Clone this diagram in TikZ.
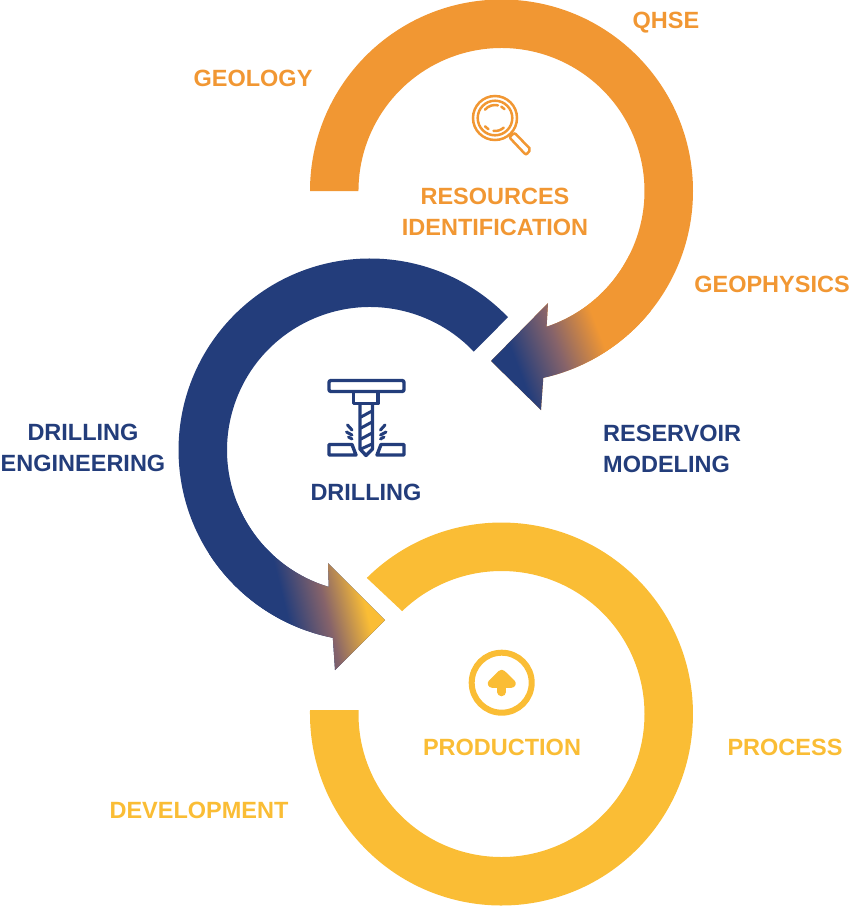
\documentclass[tikz,border=0pt]{standalone}
\usepackage{fontspec}
\setmainfont{Liberation Sans}
\definecolor{oilorange}{HTML}{F19733}
\definecolor{oilblue}{HTML}{233D7B}
\definecolor{oilyellow}{HTML}{FABD35}
\definecolor{oilmauve}{HTML}{86636A}
\pgfdeclarehorizontalshading{blueorange}{240bp}{color(0bp)=(oilblue); color(56bp)=(oilblue); color(100bp)=(oilmauve); color(144bp)=(oilorange); color(200bp)=(oilorange)}
\pgfdeclarehorizontalshading{blueyellow}{240bp}{color(0bp)=(oilblue); color(61bp)=(oilblue); color(100bp)=(oilmauve); color(139bp)=(oilyellow); color(200bp)=(oilyellow)}
\tikzset{
    label text/.style={font=\fontsize{23.5}{31}\selectfont\bfseries, inner sep=0pt},
    icon line/.style={line width=3.4pt, line join=round, line cap=round},
    spark line/.style={line width=3pt, line cap=round},
    thin icon/.style={line width=2.5pt, line cap=round},
    blend/.style={inner sep=0pt, outer sep=0pt}
}
\def\orangeband{(310,191) arc (180:437.4:191.5) -- (541,410) -- (491,361) -- (548,303) -- (546.6,326.7) arc (431.6:180:143) -- cycle}
\def\blueband{(508,317.2) arc (-43.9:-258.8:191.5) -- (335,670) -- (385,620) -- (328,563) -- (328.7,586.9) arc (-253.2:-43.5:143) -- cycle}
\def\yellowband{(366.8,577.9) arc (-134.7:180:191.5) -- (310,710) -- (358.5,710) -- (358.5,714) arc (180:-134:143) -- cycle}
\begin{document}
\begin{tikzpicture}[x=1pt, y=1pt, yscale=-1]
    \useasboundingbox (0,0) rectangle (850,906);

    % rings
    \fill [oilorange] \orangeband;
    \fill [oilblue] \blueband;
    \fill [oilyellow] \yellowband;

    % colour runs into the arrow heads
    \begin{scope}
        \clip \orangeband;
        \node [blend, rotate=21] (orangeblend) at (559,351) {\pgfuseshading{blueorange}};
    \end{scope}
    \begin{scope}
        \clip \blueband;
        \node [blend, rotate=14] (yellowblend) at (325,606) {\pgfuseshading{blueyellow}};
    \end{scope}

    % labels
    \foreach \x/\y/\txt/\col/\name in {
        666/22.5/{QHSE}/oilorange/qhse,
        253/78.5/{GEOLOGY}/oilorange/geology,
        495/212/{RESOURCES\\IDENTIFICATION}/oilorange/resources,
        772/284.5/{GEOPHYSICS}/oilorange/geophysics,
        83/448/{DRILLING\\ENGINEERING}/oilblue/engineering,
        366/492.5/{DRILLING}/oilblue/drilling,
        502/747.5/{PRODUCTION}/oilyellow/production,
        785/747.5/{PROCESS}/oilyellow/process,
        199/810.5/{DEVELOPMENT}/oilyellow/development
    } {
        \node [label text, align=center, text=\col] (\name) at (\x, \y) {\txt};
    }
    \node [label text, align=left, anchor=west, text=oilblue] (reservoir) at (603, 449) {RESERVOIR\\MODELING};

    % magnifier
    \draw [thin icon, oilorange] (495,118) circle (22);
    \draw [thin icon, oilorange] (495,118) circle (17.3);
    \draw [thin icon, oilorange] (495,118) ++(-140:13) arc (-140:-77:13);
    \draw [thin icon, oilorange] (495,118) ++(-61:13) arc (-61:-43:13);
    \draw [thin icon, oilorange] (495,118) ++(140:13) arc (140:120:13);
    \draw [thin icon, oilorange] (495,118) ++(97:13) arc (97:48:13);
    \draw [thin icon, oilorange, rounded corners=2pt] (509.3,137.3) -- (514.5,132.7) -- (530.7,149.5) -- (526,155) -- cycle;

    % drill
    \draw [icon line, oilblue, rounded corners=2pt] (329,380.5) -- (404,380.5) -- (404,391.5) -- (329,391.5) -- cycle;
    \draw [icon line, oilblue] (353.5,392) -- (353.5,403.5) -- (378,403.5) -- (378,392);
    \draw [icon line, oilblue] (360,404) -- (360,449) -- (366,455.5) -- (372.5,449) -- (372.5,404);
    \foreach \ya/\yb in {417/411, 428/422, 439/433, 449/444} {
        \draw [spark line, oilblue] (361,\ya) -- (372,\yb);
    }
    \draw [spark line, oilblue] (347.5,425) -- (352,430);
    \draw [spark line, oilblue] (346.5,432) -- (352,435);
    \draw [spark line, oilblue] (348.5,437) -- (352,439);
    \draw [spark line, oilblue] (385,425) -- (380.5,430);
    \draw [spark line, oilblue] (386,432) -- (380.5,435);
    \draw [spark line, oilblue] (384,437) -- (380.5,439);
    \draw [icon line, oilblue] (329,444.5) -- (352,444.5) -- (356,455) -- (329,455) -- cycle;
    \draw [icon line, oilblue] (404,444.5) -- (381,444.5) -- (377,455) -- (404,455) -- cycle;

    % arrow in a circle
    \draw [line width=6pt, oilyellow] (501.7,682.7) circle (30);
    \draw [line width=8.5pt, oilyellow, fill=oilyellow, line join=round, line cap=round] (492,683.5) -- (501.7,674) -- (511.5,683.5) -- cycle;
    \draw [line width=8.5pt, oilyellow, line cap=round] (501.7,680) -- (501.7,692);
\end{tikzpicture}
\end{document}
